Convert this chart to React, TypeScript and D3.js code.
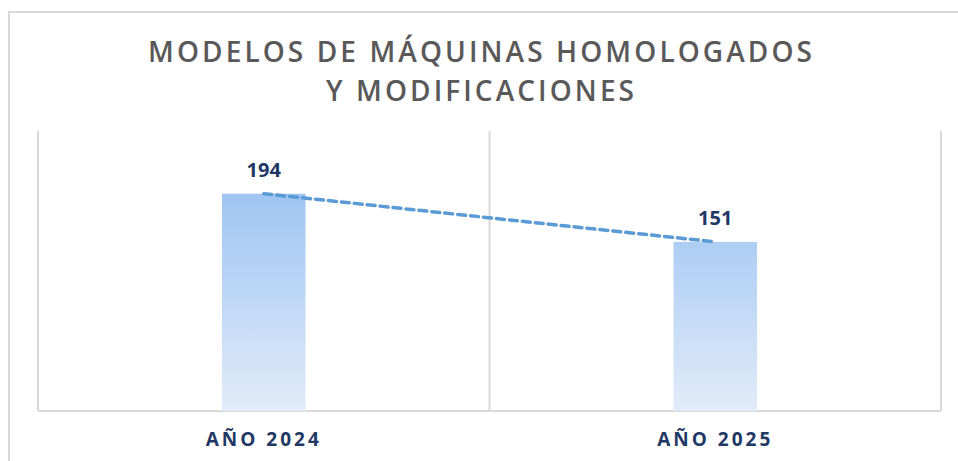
import React, { useEffect, useRef } from 'react';
import * as d3 from 'd3';

// chart data
const categories = ['AÑO 2024', 'AÑO 2025'];
const values = [194, 151];
const titleLines = ['MODELOS DE MÁQUINAS HOMOLOGADOS', 'Y MODIFICACIONES'];

const W = 958;
const H = 461;

export default function App() {
	const ref = useRef<SVGSVGElement>(null);

	useEffect(() => {
		const svg = d3.select(ref.current);
		svg.selectAll('*').remove();

		const margin = { top: 131, right: 17, bottom: 50, left: 38 };
		const width = W - margin.left - margin.right;
		const height = H - margin.top - margin.bottom;

		// gradient for bars (group space)
		const defs = svg.append('defs');
		const grad = defs
			.append('linearGradient')
			.attr('id', 'barGrad')
			.attr('gradientUnits', 'userSpaceOnUse')
			.attr('x1', 0)
			.attr('y1', 50)
			.attr('x2', 0)
			.attr('y2', height);
		grad.append('stop').attr('offset', '0%').attr('stop-color', '#9bc2f2');
		grad.append('stop').attr('offset', '100%').attr('stop-color', '#e1ecf9');

		// outer frame
		svg
			.append('rect')
			.attr('x', 9)
			.attr('y', 12)
			.attr('width', W)
			.attr('height', H)
			.attr('fill', 'white')
			.attr('stroke', '#d9d9d9')
			.attr('stroke-width', 2);

		// title
		const title = svg
			.append('text')
			.attr('text-anchor', 'middle')
			.attr('fill', '#595959')
			.style('font-family', '"Open Sans", sans-serif')
			.style('font-weight', 600)
			.style('font-size', '28px');
		const lens = [664, 308];
		titleLines.forEach((t, i) => {
			title
				.append('tspan')
				.attr('x', 480)
				.attr('y', 62 + i * 39)
				.attr('textLength', lens[i])
				.attr('lengthAdjust', 'spacing')
				.text(t);
		});

		const g = svg.append('g').attr('transform', `translate(${margin.left},${margin.top})`);

		const x = d3.scaleBand().domain(categories).range([0, width]).padding(0);
		const y = d3.scaleLinear().domain([0, 250]).range([height, 0]);

		// category boundaries (vertical gridlines)
		const bounds = [0, ...categories.map((c) => (x(c) as number) + x.bandwidth())];
		g.selectAll('.vgrid')
			.data(bounds)
			.enter()
			.append('line')
			.attr('x1', (d) => d)
			.attr('x2', (d) => d)
			.attr('y1', 0)
			.attr('y2', height)
			.attr('stroke', '#d9d9d9')
			.attr('stroke-width', 2);

		// x axis line
		g.append('line')
			.attr('x1', 0)
			.attr('x2', width)
			.attr('y1', height)
			.attr('y2', height)
			.attr('stroke', '#d9d9d9')
			.attr('stroke-width', 2);

		const barW = x.bandwidth() * 0.185;
		const cx = (c: string) => (x(c) as number) + x.bandwidth() / 2;

		// bars
		g.selectAll('.bar')
			.data(values)
			.enter()
			.append('rect')
			.attr('x', (d, i) => cx(categories[i]) - barW / 2)
			.attr('y', (d) => y(d))
			.attr('width', barW)
			.attr('height', (d) => height - y(d))
			.attr('fill', 'url(#barGrad)');

		// dashed trend line
		const line = d3
			.line<number>()
			.x((d, i) => cx(categories[i]))
			.y((d) => y(d));
		g.append('path')
			.datum(values)
			.attr('d', line)
			.attr('fill', 'none')
			.attr('stroke', '#5b9bd5')
			.attr('stroke-width', 3.5)
			.attr('stroke-dasharray', '8 5')
			.attr('stroke-linecap', 'round');

		// value labels
		g.selectAll('.lbl')
			.data(values)
			.enter()
			.append('text')
			.attr('x', (d, i) => cx(categories[i]))
			.attr('y', (d) => y(d) - 17)
			.attr('text-anchor', 'middle')
			.attr('fill', '#1f3864')
			.style('font-family', '"Open Sans", sans-serif')
			.style('font-weight', 700)
			.style('font-size', '20px')
			.text((d) => d);

		// category labels
		g.selectAll('.cat')
			.data(categories)
			.enter()
			.append('text')
			.attr('x', (d) => cx(d))
			.attr('y', height + 35)
			.attr('text-anchor', 'middle')
			.attr('fill', '#1f3864')
			.style('font-family', '"Open Sans", sans-serif')
			.style('font-weight', 700)
			.style('font-size', '19px')
			.style('letter-spacing', '3px')
			.text((d) => d);
	}, []);

	return (
		<svg
			ref={ref}
			width={W}
			height={H}
			style={{ position: 'fixed', left: 0, top: 0, background: 'white' }}
		/>
	);
}
